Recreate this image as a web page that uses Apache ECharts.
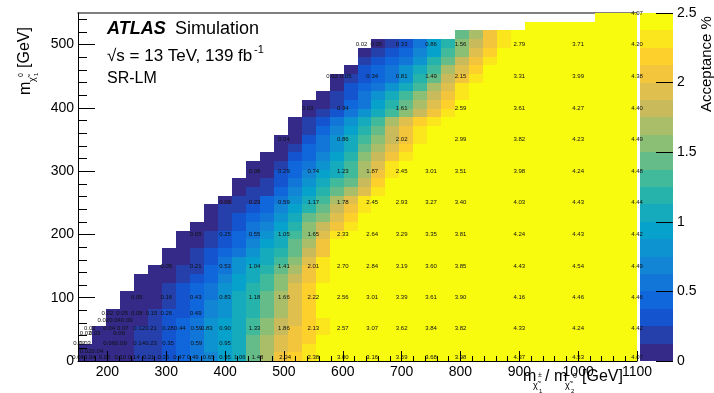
<!DOCTYPE html>
<html>
<head>
<meta charset="utf-8">
<script src="https://cdn.jsdelivr.net/npm/echarts@6/dist/echarts.min.js"></script>
<style>
  html, body { margin: 0; padding: 0; background: #fff; }
  #chart { width: 714px; height: 393px; }
</style>
</head>
<body>
<div id="chart"></div>
<script>
// acceptance map binning (GeV): 40 x 40 bins
const xMin = 150, xMax = 1100, xBin = 23.75, nCols = 40;
const yMin = 0, yMax = 550, yBin = 13.75;

// first filled column of each row (row 0 = bottom)
const rowStart = [0, 0, 1, 1, 2, 2, 3, 3, 4, 4, 5, 6, 6, 7, 7, 8, 9, 9, 10, 11,
  11, 12, 12, 13, 14, 14, 15, 15, 16, 16, 17, 18, 18, 19, 20, 20, 21, 27, 32, 37];

const rowVals = [
  [.04, .05, .07, .11, .15, .23, .35, .47, .5, .65, .95, 1.06, 1.45, 1.72, 2.0, 2.15, 2.3, 2.45],
  [.03, .05, .07, .1, .15, .23, .35, .47, .56, .75, .95, 1.08, 1.42, 1.68, 1.96, 2.12, 2.28, 2.42],
  [.04, .06, .09, .14, .22, .33, .46, .59, .8, .94, 1.1, 1.38, 1.65, 1.9, 2.05, 2.2, 2.38],
  [.03, .05, .08, .13, .21, .29, .45, .6, .83, .9, 1.1, 1.33, 1.6, 1.86, 2.0, 2.13, 2.35],
  [.03, .06, .1, .18, .27, .4, .54, .75, .88, 1.08, 1.28, 1.52, 1.8, 1.98, 2.14, 2.35],
  [.02, .05, .08, .15, .26, .37, .49, .68, .86, 1.05, 1.24, 1.46, 1.74, 1.95, 2.18, 2.38],
  [.03, .06, .12, .2, .33, .46, .64, .84, 1.02, 1.2, 1.42, 1.7, 1.95, 2.2, 2.4],
  [.03, .05, .1, .16, .29, .43, .62, .83, 1.0, 1.18, 1.4, 1.66, 1.95, 2.22, 2.4],
  [.05, .09, .14, .25, .38, .56, .76, .95, 1.14, 1.35, 1.58, 1.88, 2.15, 2.4],
  [.04, .07, .12, .2, .33, .48, .68, .9, 1.1, 1.28, 1.5, 1.8, 2.1, 2.35],
  [.03, .07, .14, .24, .38, .56, .8, 1.05, 1.2, 1.38, 1.7, 2.0, 2.35],
  [.05, .12, .2, .35, .5, .75, .98, 1.12, 1.32, 1.62, 1.92, 2.25],
  [.04, .08, .15, .27, .42, .6, .82, 1.0, 1.2, 1.48, 1.78, 2.08, 2.45],
  [.04, .1, .2, .33, .48, .68, .9, 1.12, 1.38, 1.68, 2.0, 2.38],
  [.03, .06, .16, .26, .42, .56, .8, 1.05, 1.32, 1.6, 1.95, 2.3, 2.45],
  [.05, .12, .22, .36, .5, .72, .98, 1.22, 1.5, 1.78, 2.12, 2.35],
  [.08, .18, .28, .4, .6, .85, 1.08, 1.38, 1.62, 1.98, 2.22, 2.45],
  [.04, .14, .2, .3, .48, .72, .98, 1.22, 1.48, 1.82, 2.12, 2.35],
  [.08, .14, .22, .38, .58, .85, 1.1, 1.32, 1.68, 1.95, 2.25, 2.45],
  [.06, .13, .24, .42, .66, .92, 1.15, 1.42, 1.65, 1.95, 2.3],
  [.04, .08, .18, .32, .55, .8, 1.02, 1.25, 1.45, 1.8, 2.15, 2.42],
  [.06, .12, .25, .45, .68, .9, 1.12, 1.35, 1.72, 2.05, 2.35],
  [.04, .08, .2, .38, .6, .82, 1.05, 1.3, 1.65, 1.95, 2.25, 2.45],
  [.05, .12, .26, .48, .7, .95, 1.2, 1.52, 1.82, 2.1, 2.35],
  [.06, .18, .38, .6, .85, 1.1, 1.4, 1.7, 1.98, 2.2, 2.45],
  [.04, .12, .3, .5, .75, 1.0, 1.28, 1.58, 1.85, 2.1, 2.35],
  [.08, .22, .4, .65, .9, 1.15, 1.45, 1.75, 2.0, 2.25, 2.45],
  [.06, .15, .3, .55, .8, 1.05, 1.35, 1.65, 1.9, 2.15, 2.35, 2.48],
  [.06, .15, .3, .5, .75, 1.0, 1.3, 1.6, 1.85, 2.1, 2.3],
  [.03, .1, .22, .4, .62, .88, 1.15, 1.45, 1.7, 1.95, 2.2, 2.45],
  [.08, .18, .32, .5, .75, 1.0, 1.25, 1.5, 1.8, 2.05, 2.35, 2.48],
  [.12, .25, .4, .6, .85, 1.05, 1.35, 1.65, 1.95, 2.25, 2.45],
  [.05, .15, .28, .42, .62, .82, 1.15, 1.48, 1.8, 2.12, 2.35, 2.48],
  [.12, .25, .4, .6, .75, 1.05, 1.35, 1.65, 1.98, 2.2, 2.4],
  [.2, .3, .45, .6, .85, 1.15, 1.45, 1.8, 2.05, 2.3, 2.45],
  [.1, .2, .3, .45, .7, .98, 1.3, 1.62, 1.95, 2.2, 2.45],
  [.12, .22, .35, .6, .88, 1.2, 1.56, 1.85, 2.1, 2.35],
  [1.4, 1.7, 2.0, 2.25],
  [],
  []
];
const overflow = 2.6;

// numbers printed on the signal points: [m_N1, [[m_C1, text], ...]]
const pointLabels = [
  [550, [[1100, '4.07']]],
  [500, [[632, '0.02'], [657, '0.05'], [700, '0.33'], [750, '0.86'], [800, '1.56'], [900, '2.79'], [1000, '3.71'], [1100, '4.20']]],
  [450, [[582, '0.02'], [605, '0.05'], [650, '0.34'], [700, '0.81'], [750, '1.49'], [800, '2.15'], [900, '3.31'], [1000, '3.99'], [1100, '4.38']]],
  [400, [[540, '0.03'], [600, '0.34'], [700, '1.61'], [800, '2.59'], [900, '3.61'], [1000, '4.27'], [1100, '4.40']]],
  [350, [[500, '0.04'], [600, '0.86'], [700, '2.02'], [800, '2.99'], [900, '3.82'], [1000, '4.23'], [1100, '4.49']]],
  [300, [[450, '0.08'], [500, '0.29'], [550, '0.74'], [600, '1.23'], [650, '1.87'], [700, '2.45'], [750, '3.01'], [800, '3.51'], [900, '3.98'], [1000, '4.24'], [1100, '4.48']]],
  [250, [[400, '0.09'], [450, '0.23'], [500, '0.59'], [550, '1.17'], [600, '1.78'], [650, '2.45'], [700, '2.93'], [750, '3.27'], [800, '3.40'], [900, '4.03'], [1000, '4.43'], [1100, '4.44']]],
  [200, [[350, '0.05'], [400, '0.25'], [450, '0.55'], [500, '1.05'], [550, '1.65'], [600, '2.33'], [650, '2.64'], [700, '3.29'], [750, '3.35'], [800, '3.81'], [900, '4.24'], [1000, '4.43'], [1100, '4.42']]],
  [150, [[300, '0.05'], [350, '0.21'], [400, '0.53'], [450, '1.04'], [500, '1.41'], [550, '2.01'], [600, '2.70'], [650, '2.84'], [700, '3.19'], [750, '3.60'], [800, '3.85'], [900, '4.43'], [1000, '4.54'], [1100, '4.49']]],
  [100, [[250, '0.05'], [300, '0.16'], [350, '0.43'], [400, '0.83'], [450, '1.18'], [500, '1.66'], [550, '2.22'], [600, '2.56'], [650, '3.01'], [700, '3.39'], [750, '3.61'], [800, '3.90'], [900, '4.16'], [1000, '4.46'], [1100, '4.46']]],
  [76, [[200, '0.02'], [225, '0.05'], [250, '0.08'], [275, '0.15'], [300, '0.26'], [350, '0.49']]],
  [65, [[193, '0.02'], [213, '0.04'], [233, '0.09']]],
  [52, [[170, '0.02'], [203, '0.04'], [226, '0.07'], [254, '0.12'], [274, '0.21'], [303, '0.28'], [323, '0.44'], [351, '0.59'], [369, '0.83'], [400, '0.90'], [450, '1.33'], [500, '1.86'], [550, '2.13'], [600, '2.57'], [650, '3.07'], [700, '3.62'], [750, '3.84'], [800, '3.82'], [900, '4.33'], [1000, '4.24'], [1100, '4.42']]],
  [43, [[163, '0.02'], [178, '0.03'], [220, '0.06']]],
  [28, [[152, '0.02'], [162, '0.03'], [203, '0.06'], [223, '0.09'], [254, '0.14'], [274, '0.23'], [303, '0.35'], [351, '0.59'], [400, '0.95']]],
  [16, [[163, '0.02'], [183, '0.04']]],
  [5, [[150, '0.04'], [170, '0.04'], [195, '0.06'], [222, '0.10'], [245, '0.14'], [270, '0.21'], [295, '0.35'], [322, '0.47'], [345, '0.49'], [372, '0.65'], [400, '0.95'], [425, '1.06'], [455, '1.48'], [502, '2.04'], [550, '2.38'], [600, '3.00'], [650, '3.16'], [700, '3.59'], [750, '3.68'], [800, '3.98'], [900, '4.37'], [1000, '4.53'], [1100, '4.07']]]
];

const xTicks = [200, 300, 400, 500, 600, 700, 800, 900, 1000, 1100];
const yTicks = [0, 100, 200, 300, 400, 500];
const zMax = 2.5, zContours = 20;

// ROOT kBird palette
const bird = ['#352a87', '#0f5cdd', '#1481d6', '#06a4ca', '#2eb7a4', '#87bf77', '#d1bb59', '#fec832', '#f9fb0e'];

const FONT = "'Liberation Sans', Arial, Helvetica, sans-serif";

// cells [x0, x1, y0, y1, value]
const cells = [];
rowVals.forEach((vals, r) => {
  const y0 = yMin + r * yBin;
  for (let c = rowStart[r]; c < nCols; c++) {
    const k = c - rowStart[r];
    cells.push([xMin + c * xBin, xMin + (c + 1) * xBin, y0, y0 + yBin, k < vals.length ? vals[k] : overflow]);
  }
});

// palette boxes, same layout so the value sits in dimension 4
const dz = zMax / zContours;
const bands = [];
const pieces = [];
for (let k = 0; k < zContours; k++) {
  bands.push([0, 1, k * dz, (k + 1) * dz, (k + 0.5) * dz]);
  const piece = { gte: k * dz, color: echarts.color.lerp(k / (zContours - 1), bird) };
  if (k < zContours - 1) piece.lt = (k + 1) * dz;
  pieces.push(piece);
}

const lblPos = [], lblText = [];
pointLabels.forEach(([y, row]) => row.forEach(([x, t]) => { lblPos.push([x, y]); lblText.push(t); }));

const xMinor = [], yMinor = [];
for (let v = 160; v <= xMax; v += 20) if (v % 100) xMinor.push(v);
for (let v = 20; v <= yMax; v += 20) if (v % 100) yMinor.push(v);

function renderBox(params, api) {
  const a = api.coord([api.value(0), api.value(3)]);
  const b = api.coord([api.value(1), api.value(2)]);
  const x0 = Math.round(a[0]), y0 = Math.round(a[1]);
  return {
    type: 'rect',
    shape: { x: x0, y: y0, width: Math.round(b[0]) - x0, height: Math.round(b[1]) - y0 },
    style: { fill: api.visual('color') }
  };
}

const black = { color: '#000', width: 1 };
const plain = (v) => String(v);

const chart = echarts.init(document.getElementById('chart'));
chart.setOption({
  animation: false,
  backgroundColor: '#fff',
  textStyle: { fontFamily: FONT },
  grid: [
    { left: 78, top: 13, width: 559, height: 348 },
    { left: 640, top: 13, width: 33, height: 348 }
  ],
  xAxis: [
    {
      type: 'value', gridIndex: 0, min: xMin, max: xMax, position: 'bottom', z: 10,
      axisLine: { onZero: false, lineStyle: black },
      axisTick: { inside: true, length: 10, customValues: xTicks, lineStyle: black },
      axisLabel: { customValues: xTicks, formatter: plain, color: '#000', fontSize: 14, margin: 4, fontFamily: FONT },
      splitLine: { show: false }
    },
    {
      type: 'value', gridIndex: 0, min: xMin, max: xMax, position: 'bottom', z: 10,
      axisLine: { show: false, onZero: false },
      axisTick: { inside: true, length: 5, customValues: xMinor, lineStyle: black },
      axisLabel: { show: false }, splitLine: { show: false }
    },
    {
      type: 'value', gridIndex: 0, min: xMin, max: xMax, position: 'top', z: 1,
      axisLine: { onZero: false, lineStyle: { color: '#555', width: 1.5 } },
      axisTick: { show: false }, axisLabel: { show: false }, splitLine: { show: false }
    },
    { type: 'value', gridIndex: 1, min: 0, max: 1, show: false }
  ],
  yAxis: [
    {
      type: 'value', gridIndex: 0, min: yMin, max: yMax, position: 'left', z: 10,
      axisLine: { show: true, onZero: false, lineStyle: black },
      axisTick: { inside: true, length: 17, customValues: yTicks, lineStyle: black },
      axisLabel: { customValues: yTicks, formatter: plain, color: '#000', fontSize: 14, margin: 4, fontFamily: FONT },
      splitLine: { show: false }
    },
    {
      type: 'value', gridIndex: 0, min: yMin, max: yMax, position: 'left', z: 10,
      axisLine: { show: false, onZero: false },
      axisTick: { inside: true, length: 9, customValues: yMinor, lineStyle: black },
      axisLabel: { show: false }, splitLine: { show: false }
    },
    {
      type: 'value', gridIndex: 1, min: 0, max: zMax, interval: 0.5, position: 'right', z: 10,
      axisLine: { show: false, onZero: false },
      axisTick: { inside: true, length: 17, lineStyle: black },
      axisLabel: { color: '#000', fontSize: 14, margin: 4, fontFamily: FONT },
      splitLine: { show: false }
    }
  ],
  visualMap: {
    type: 'piecewise', show: false, dimension: 4, seriesIndex: [0, 1], pieces: pieces
  },
  series: [
    {
      type: 'custom', xAxisIndex: 0, yAxisIndex: 0, data: cells, renderItem: renderBox, z: 2, silent: true
    },
    {
      type: 'custom', xAxisIndex: 3, yAxisIndex: 2, data: bands, renderItem: renderBox, z: 2, silent: true
    },
    {
      type: 'custom', xAxisIndex: 0, yAxisIndex: 0, data: lblPos, z: 4, silent: true,
      renderItem: (params, api) => {
        const p = api.coord([api.value(0), api.value(1)]);
        return {
          type: 'text', x: p[0], y: p[1],
          style: { text: lblText[params.dataIndex], fontSize: 6, fontFamily: FONT, fill: '#111', align: 'center', verticalAlign: 'middle' }
        };
      }
    }
  ],
  graphic: [
    { type: 'text', x: 107, y: 29.5, style: { text: 'ATLAS', font: 'italic bold 18px ' + FONT, fill: '#000', verticalAlign: 'middle' } },
    { type: 'text', x: 175, y: 29.5, style: { text: 'Simulation', font: '18px ' + FONT, fill: '#000', verticalAlign: 'middle' } },
    { type: 'text', x: 107, y: 56, style: { text: '\u221As = 13 TeV, 139 fb', font: '17px ' + FONT, fill: '#000', verticalAlign: 'middle' } },
    { type: 'text', x: 254, y: 50, style: { text: '-1', font: '11px ' + FONT, fill: '#000', verticalAlign: 'middle' } },
    { type: 'text', x: 107, y: 79, style: { text: 'SR-LM', font: '16px ' + FONT, fill: '#000', verticalAlign: 'middle' } },

    // x title: m(chi1 +-) / m(chi2 0) [GeV]
    { type: 'text', x: 523, y: 377, style: { text: 'm', font: '16px ' + FONT, fill: '#000', verticalAlign: 'middle' } },
    { type: 'text', x: 533, y: 386, style: { text: '\u03C7\u0303', font: '9px ' + FONT, fill: '#000', verticalAlign: 'middle' } },
    { type: 'text', x: 539, y: 391, style: { text: '1', font: '6px ' + FONT, fill: '#000', verticalAlign: 'middle' } },
    { type: 'text', x: 538, y: 375, style: { text: '\u00B1', font: '7px ' + FONT, fill: '#000', verticalAlign: 'middle' } },
    { type: 'text', x: 545, y: 377, style: { text: '/ m', font: '16px ' + FONT, fill: '#000', verticalAlign: 'middle' } },
    { type: 'text', x: 565, y: 386, style: { text: '\u03C7\u0303', font: '9px ' + FONT, fill: '#000', verticalAlign: 'middle' } },
    { type: 'text', x: 571, y: 391, style: { text: '2', font: '6px ' + FONT, fill: '#000', verticalAlign: 'middle' } },
    { type: 'text', x: 573, y: 376, style: { text: '0', font: '7px ' + FONT, fill: '#000', verticalAlign: 'middle' } },
    { type: 'text', x: 582, y: 377, style: { text: '[GeV]', font: '16px ' + FONT, fill: '#000', verticalAlign: 'middle' } },

    // y title: m(chi1 0) [GeV], rotated
    { type: 'text', x: 26, y: 95, rotation: Math.PI / 2, style: { text: 'm', font: '16px ' + FONT, fill: '#000', verticalAlign: 'middle' } },
    { type: 'text', x: 33, y: 82, rotation: Math.PI / 2, style: { text: '\u03C7\u0303', font: '9px ' + FONT, fill: '#000', verticalAlign: 'middle' } },
    { type: 'text', x: 36, y: 76, rotation: Math.PI / 2, style: { text: '1', font: '6px ' + FONT, fill: '#000', verticalAlign: 'middle' } },
    { type: 'text', x: 21, y: 77, rotation: Math.PI / 2, style: { text: '0', font: '7px ' + FONT, fill: '#000', verticalAlign: 'middle' } },
    { type: 'text', x: 25, y: 68, rotation: Math.PI / 2, style: { text: '[GeV]', font: '16px ' + FONT, fill: '#000', verticalAlign: 'middle' } },

    // palette title
    { type: 'text', x: 707, y: 112, rotation: Math.PI / 2, style: { text: 'Acceptance %', font: '15px ' + FONT, fill: '#000', verticalAlign: 'middle' } }
  ]
});
</script>
</body>
</html>
